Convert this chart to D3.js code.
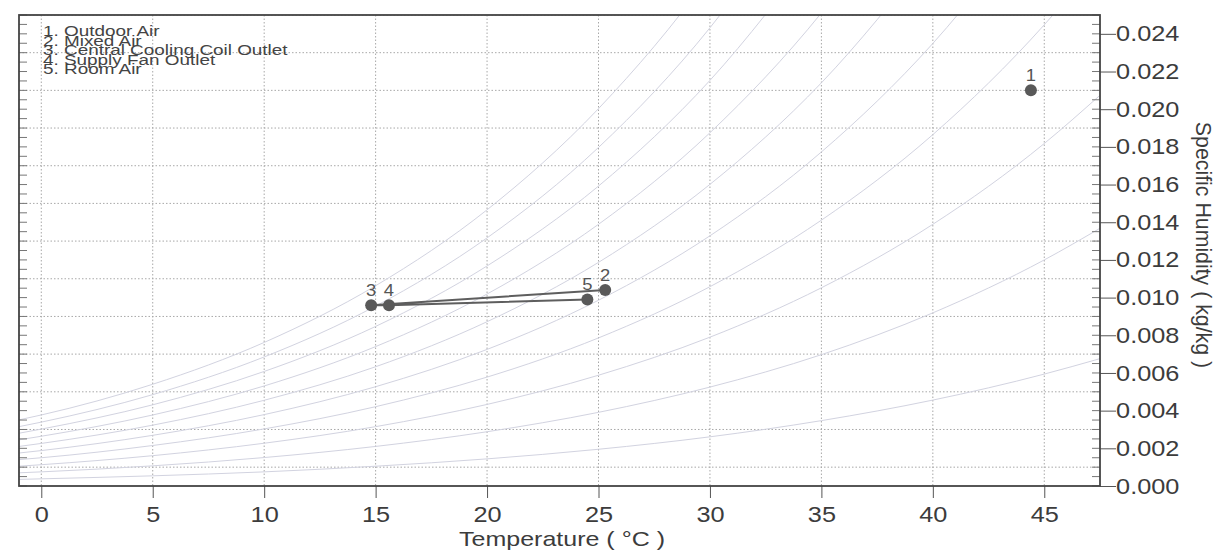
<!DOCTYPE html>
<html>
<head>
<meta charset="utf-8">
<script src="https://cdn.jsdelivr.net/npm/d3@7"></script>
<style>
  body { margin: 0; background: #fff; }
  svg { display: block; font-family: "Liberation Sans", Arial, sans-serif; }
</style>
</head>
<body>
<svg id="chart" width="1218" height="553"></svg>
<script>
// state points of the air-handling process
var pointLabels = ["1", "2", "3", "4", "5"];
var pointTemps = [44.4, 25.3, 14.8, 15.6, 24.5];
var pointHum = [0.0210, 0.0104, 0.0096, 0.0096, 0.0099];
// process line: 2 -> 3 -> 4 -> 5 (indices into the arrays above)
var processOrder = [1, 2, 3, 4];

var legendItems = ["1. Outdoor Air", "2. Mixed Air", "3. Central Cooling Coil Outlet",
                   "4. Supply Fan Outlet", "5. Room Air"];

var xTicks = [0, 5, 10, 15, 20, 25, 30, 35, 40, 45];
var yTicks = [0, 0.002, 0.004, 0.006, 0.008, 0.010, 0.012, 0.014, 0.016, 0.018, 0.020, 0.022, 0.024];

// relative humidity lines 10% .. 100%, humidity ratio read at these temperatures
var rhTemps = [-1, 0, 5, 10, 15, 20, 25, 30, 35, 40, 45, 47.5];
var rh10  = [0.00035, 0.00038, 0.00054, 0.00075, 0.00105, 0.00144, 0.00195, 0.00261, 0.00347, 0.00456, 0.00594, 0.00676];
var rh20  = [0.00070, 0.00075, 0.00107, 0.00151, 0.00210, 0.00288, 0.00391, 0.00525, 0.00697, 0.00919, 0.01200, 0.01368];
var rh30  = [0.00105, 0.00113, 0.00161, 0.00227, 0.00315, 0.00433, 0.00588, 0.00790, 0.01052, 0.01389, 0.01818, 0.02074];
var rh40  = [0.00140, 0.00150, 0.00215, 0.00303, 0.00421, 0.00578, 0.00786, 0.01058, 0.01411, 0.01865, 0.02448, 0.02797];
var rh50  = [0.00175, 0.00188, 0.00269, 0.00379, 0.00527, 0.00725, 0.00986, 0.01328, 0.01773, 0.02349, 0.03090];
var rh60  = [0.00210, 0.00226, 0.00323, 0.00455, 0.00633, 0.00872, 0.01187, 0.01601, 0.02140, 0.02840];
var rh70  = [0.00245, 0.00264, 0.00377, 0.00531, 0.00740, 0.01019, 0.01389, 0.01875, 0.02511, 0.03339];
var rh80  = [0.00280, 0.00302, 0.00431, 0.00608, 0.00847, 0.01168, 0.01592, 0.02153, 0.02887];
var rh90  = [0.00315, 0.00339, 0.00485, 0.00685, 0.00955, 0.01317, 0.01797, 0.02432, 0.03267];
var rh100 = [0.00351, 0.00377, 0.00540, 0.00762, 0.01063, 0.01466, 0.02003, 0.02714, 0.03651];
var rhCurves = [rh10, rh20, rh30, rh40, rh50, rh60, rh70, rh80, rh90, rh100];

var svg = d3.select("#chart");
var pLeft = 19, pRight = 1100, pTop = 15, pBottom = 486;

var x = d3.scaleLinear().domain([-1, 47.5]).range([pLeft, pRight]);
var y = d3.scaleLinear().domain([0, 0.025]).range([pBottom, pTop]);

svg.append("clipPath").attr("id", "plotclip")
  .append("rect")
  .attr("x", pLeft).attr("y", pTop)
  .attr("width", pRight - pLeft).attr("height", pBottom - pTop);

var plot = svg.append("g").attr("clip-path", "url(#plotclip)");

// dotted grid
plot.selectAll("line.vgrid")
  .data(xTicks)
  .enter()
  .append("line")
  .attr("class", "vgrid")
  .attr("x1", (d) => x(d)).attr("x2", (d) => x(d))
  .attr("y1", pTop).attr("y2", pBottom)
  .attr("stroke", "#a8a8a8")
  .attr("stroke-dasharray", "1.5,2");

plot.selectAll("line.hgrid")
  .data(yTicks.map((d) => d + 0.001))
  .enter()
  .append("line")
  .attr("class", "hgrid")
  .attr("x1", pLeft).attr("x2", pRight)
  .attr("y1", (d) => y(d)).attr("y2", (d) => y(d))
  .attr("stroke", "#a8a8a8")
  .attr("stroke-dasharray", "1.5,2");

// RH curves
var rhLine = d3.line()
  .x((d, i) => x(rhTemps[i]))
  .y((d) => y(d))
  .curve(d3.curveMonotoneX);

plot.selectAll("path.rh")
  .data(rhCurves)
  .enter()
  .append("path")
  .attr("class", "rh")
  .attr("d", rhLine)
  .attr("fill", "none")
  .attr("stroke", "#d2d3e0")
  .attr("stroke-width", 1);

// process line
var procLine = d3.line()
  .x((i) => x(pointTemps[i]))
  .y((i) => y(pointHum[i]));

svg.append("path")
  .attr("d", procLine(processOrder))
  .attr("fill", "none")
  .attr("stroke", "#5e5e5e")
  .attr("stroke-width", 2);

svg.selectAll("circle.pt")
  .data(pointLabels)
  .enter()
  .append("circle")
  .attr("class", "pt")
  .attr("cx", (d, i) => x(pointTemps[i]))
  .attr("cy", (d, i) => y(pointHum[i]))
  .attr("r", 6)
  .attr("fill", "#595959");

svg.selectAll("text.ptlabel")
  .data(pointLabels)
  .enter()
  .append("text")
  .attr("class", "ptlabel")
  .attr("transform", (d, i) => "translate(" + x(pointTemps[i]) + "," + (y(pointHum[i]) - 9) + ") scale(1.15,1)")
  .attr("text-anchor", "middle")
  .style("font-size", "16px")
  .style("fill", "#555")
  .text((d) => d);

// minor ticks inside the frame, both sides
var minor = d3.range(0, 0.02501, 0.0005);
svg.selectAll("line.minor")
  .data(minor.concat(minor))
  .enter()
  .append("line")
  .attr("class", "minor")
  .attr("x1", (d, i) => i < minor.length ? pLeft : pRight)
  .attr("x2", (d, i) => i < minor.length ? pLeft + 8 : pRight - 8)
  .attr("y1", (d) => y(d)).attr("y2", (d) => y(d))
  .attr("stroke", "#777");

// axes
var xAxis = svg.append("g")
  .attr("transform", "translate(0," + pBottom + ")")
  .call(d3.axisBottom(x).tickValues(xTicks).tickFormat(d3.format("d"))
    .tickSize(12).tickSizeOuter(0).tickPadding(8));

var yAxis = svg.append("g")
  .attr("transform", "translate(" + pRight + ",0)")
  .call(d3.axisRight(y).tickValues(yTicks).tickFormat(d3.format(".3f"))
    .tickSize(16).tickSizeOuter(0).tickPadding(0));

[xAxis, yAxis].forEach(function(a) {
  a.select(".domain").remove();
  a.selectAll("line").attr("stroke", "#555");
  a.selectAll("text")
    .attr("fill", "#3c3c3c")
    .style("font-size", "22px")
    .style("font-family", "'Liberation Sans', Arial, sans-serif");
});
xAxis.selectAll("text").attr("transform", "scale(1.15,1)");
yAxis.selectAll("text").attr("x", 14).attr("transform", "scale(1.15,1)");

// frame
svg.append("rect")
  .attr("x", pLeft).attr("y", pTop)
  .attr("width", pRight - pLeft).attr("height", pBottom - pTop)
  .attr("fill", "none")
  .attr("stroke", "#444")
  .attr("stroke-width", 1.8);

// axis titles
svg.append("text")
  .attr("transform", "translate(562,546) scale(1.22,1)")
  .attr("text-anchor", "middle")
  .style("font-size", "20.5px")
  .style("fill", "#3c3c3c")
  .text("Temperature ( °C )");

svg.append("text")
  .attr("transform", "translate(1196,245) rotate(90) scale(1.04,1.12)")
  .attr("text-anchor", "middle")
  .style("font-size", "20.5px")
  .style("fill", "#3c3c3c")
  .text("Specific Humidity ( kg/kg )");

// legend (overlapping lines as in the original)
svg.selectAll("text.legend")
  .data(legendItems)
  .enter()
  .append("text")
  .attr("class", "legend")
  .attr("transform", (d, i) => "translate(43," + (36 + i * 9.5) + ") scale(1.22,1)")
  .style("font-size", "15.5px")
  .style("fill", "#444")
  .text((d) => d);
</script>
</body>
</html>
